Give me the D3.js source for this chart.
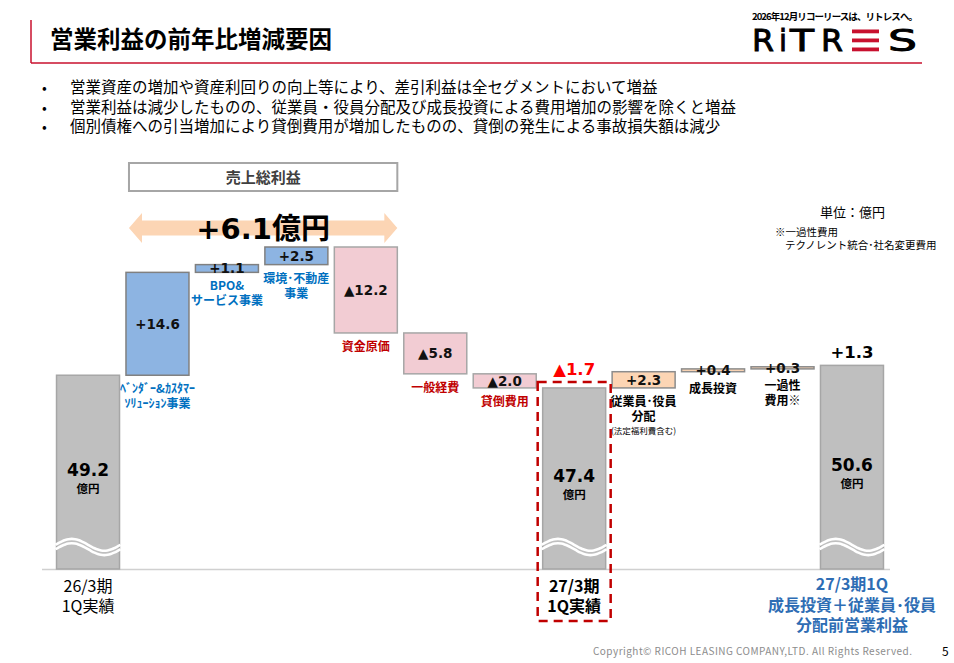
<!DOCTYPE html>
<html>
<head>
<meta charset="utf-8">
<script src="https://cdn.jsdelivr.net/npm/d3@7"></script>
<style>
  body { margin:0; background:#fff; }
  svg { display:block; }
  text { font-family:"Noto Sans CJK JP", "Noto Sans", sans-serif; }
  .num { font-family:"DejaVu Sans", "Noto Sans CJK JP", sans-serif; font-weight:bold; }
</style>
</head>
<body>
<div id="plot"></div>
<script>
// chart data
var steps = ['26/3期1Q実績','ベンダー&カスタマー','BPO&サービス','環境・不動産','資金原価','一般経費','貸倒費用',
             '27/3期1Q実績','従業員・役員分配','成長投資','一過性費用','分配前営業利益'];
var kinds = ['total','up','up','up','down','down','down','total','extra','extra','extra','total'];
var values = [49.2, 14.6, 1.1, 2.5, -12.2, -5.8, -2.0, 47.4, 2.3, 0.4, 0.3, 50.6];
var valueLabels = ['49.2','+14.6','+1.1','+2.5','▲12.2','▲5.8','▲2.0','47.4','+2.3','+0.4','+0.3','50.6'];
var catLines = [[], ['ﾍﾞﾝﾀﾞｰ&ｶｽﾀﾏｰ','ｿﾘｭｰｼｮﾝ事業'], ['BPO&','サービス事業'], ['環境･不動産','事業'],
                ['資金原価'], ['一般経費'], ['貸倒費用'], [], ['従業員･役員','分配','(法定福利費含む)'],
                ['成長投資'], ['一過性','費用※'], []];
var bullets = ['営業資産の増加や資産利回りの向上等により、差引利益は全セグメントにおいて増益',
               '営業利益は減少したものの、従業員・役員分配及び成長投資による費用増加の影響を除くと増益',
               '個別債権への引当増加により貸倒費用が増加したものの、貸倒の発生による事故損失額は減少'];
var grossProfit = '+6.1億円';
var diffLabels = {7:'▲1.7', 11:'+1.3'};

var W = 954, H = 663;
var svg = d3.select('#plot').append('svg').attr('width',W).attr('height',H);

// header
svg.append('line').attr('x1',31).attr('x2',31).attr('y1',20).attr('y2',63)
  .style('stroke','#c8102e').style('stroke-width',1.5);
svg.append('line').attr('x1',31).attr('x2',922).attr('y1',63).attr('y2',63)
  .style('stroke','#c8102e').style('stroke-width',1.5);
svg.append('text').attr('x',50).attr('y',48).text('営業利益の前年比増減要因')
  .style('font-size','23.5px').style('font-weight','bold');

svg.append('text').attr('x',752).attr('y',20).text('2026年12月リコーリースは、リトレスへ。')
  .attr('textLength',166).style('font-size','9.5px').style('font-weight','bold');
var logo = svg.append('g');
[['R',752,22],['i',779,8],['T',790,24],['R',821,22],['S',888,29]].forEach(function(l){
  logo.append('text').attr('x',l[1]).attr('y',51).text(l[0])
    .attr('textLength',l[2]).attr('lengthAdjust','spacingAndGlyphs')
    .style('font-family','"DejaVu Sans", sans-serif').style('font-size','30px')
    .style('stroke','#000').style('stroke-width',0.9);
});
[29.5,38.5,47.5].forEach(function(y){
  logo.append('rect').attr('x',852).attr('y',y).attr('width',27).attr('height',3.8).style('fill','#c8102e');
});

// bullets
bullets.forEach(function(b,i){
  svg.append('text').attr('x',42).attr('y',93+i*19.5).text('•').style('font-size','14px');
  svg.append('text').attr('x',70).attr('y',93+i*19.5).text(b).style('font-size','15.5px');
});

// scales
var x = d3.scaleBand().domain(d3.range(steps.length)).range([53.3,886.7])
  .paddingInner(0.093).paddingOuter(0.0465);
var base = 21.7;
var y = d3.scaleLinear().domain([base, 67.4]).range([569, 247]);

// waterfall segments
var bars = [];
var cum = 0;
values.forEach(function(v,i){
  if (kinds[i]==='total') { bars.push({i:i, y0:base, y1:v}); cum = v; }
  else { bars.push({i:i, y0:cum, y1:cum+v}); cum += v; }
});

var fills = {total:'#bfbfbf', up:'#8db4e2', down:'#f2ccd3', extra:'#fcd5b4'};
var strokes = {total:'#a6a6a6', up:'#808080', down:'#a6a6a6', extra:'#8c8c8c'};
var catColor = {up:'#0070c0', down:'#c00000', extra:'#000'};

// baseline
svg.append('line').attr('x1',42).attr('x2',890).attr('y1',569.5).attr('y2',569.5)
  .style('stroke','#d0d0d0').style('stroke-width',1.5);

var plot = svg.append('g');
plot.selectAll('rect.bar').data(bars).enter().append('rect').attr('class','bar')
  .attr('x',function(d){return x(d.i);})
  .attr('width',x.bandwidth())
  .attr('y',function(d){return y(Math.max(d.y0,d.y1));})
  .attr('height',function(d){return Math.abs(y(d.y0)-y(d.y1));})
  .style('fill',function(d){return fills[kinds[d.i]];})
  .style('stroke',function(d){return strokes[kinds[d.i]];})
  .style('stroke-width',1.5);

// wave break marks on total bars
var waveY = 547;
var wave = d3.line().curve(d3.curveBasis);
bars.filter(function(d){return kinds[d.i]==='total';}).forEach(function(d){
  var x0 = x(d.i), w = x.bandwidth();
  [-2.2, 2.2].forEach(function(off){
    var pts = d3.range(0,1.0001,0.05).map(function(t){
      return [x0-1 + t*(w+2), waveY + off - 6*Math.sin(2*Math.PI*t)];
    });
    plot.append('path').attr('d',wave(pts)).style('fill','none')
      .style('stroke','#fff').style('stroke-width',2.6);
  });
});

// value labels
bars.forEach(function(d){
  var cx = x(d.i) + x.bandwidth()/2;
  var k = kinds[d.i];
  if (k==='total') {
    var top = y(d.y1);
    var cy = (top+waveY)/2 + 9;
    plot.append('text').attr('class','num').attr('x',cx).attr('y',cy+6).attr('text-anchor','middle')
      .text(valueLabels[d.i]).style('font-size','17px');
    plot.append('text').attr('x',cx).attr('y',cy+23).attr('text-anchor','middle')
      .text('億円').style('font-size','11.5px').style('font-weight','bold');
  } else {
    var mid = (y(d.y0)+y(d.y1))/2;
    plot.append('text').attr('class','num').attr('x',cx).attr('y',mid+5).attr('text-anchor','middle')
      .text(valueLabels[d.i]).style('font-size','13.5px').style('fill','#111');
    var bottom = y(Math.min(d.y0,d.y1));
    var gap = Math.abs(y(d.y0)-y(d.y1)) < 5 ? 21 : 18;
    catLines[d.i].forEach(function(line,j){
      var small = line.charAt(0)==='(';
      plot.append('text').attr('x',cx).attr('y',bottom+gap+j*15 - (small?2:0)).attr('text-anchor','middle')
        .text(line).style('font-size',small?'8.5px':'12px')
        .style('font-weight',small?'normal':'bold')
        .style('fill',catColor[k]);
    });
  }
});

// differences vs prior year
Object.keys(diffLabels).forEach(function(k){
  var i = +k;
  var cx = x(i) + x.bandwidth()/2;
  var red = diffLabels[k].charAt(0)==='▲';
  plot.append('text').attr('class','num').attr('x',cx).attr('y',y(values[i]) - (red?13:7))
    .attr('text-anchor','middle').text(diffLabels[k]).style('font-size','16.5px')
    .style('fill',red?'#ff0000':'#000');
});

// red dashed box round 27/3期
plot.append('rect').attr('x',x(7)-5).attr('y',382).attr('width',x.bandwidth()+10).attr('height',239)
  .style('fill','none').style('stroke','#c00000').style('stroke-width',2.5)
  .style('stroke-dasharray','9,6');

// bottom labels
function lines(arr, cx, y0, dy, size, weight, color){
  arr.forEach(function(t,j){
    svg.append('text').attr('x',cx).attr('y',y0+j*dy).attr('text-anchor','middle').text(t)
      .style('font-size',size).style('font-weight',weight).style('fill',color);
  });
}
var c = function(i){return x(i)+x.bandwidth()/2;};
lines(['26/3期','1Q実績'], c(0), 592, 19.5, '16px', 'normal', '#000');
lines(['27/3期','1Q実績'], c(7), 592, 19.5, '16px', 'bold', '#000');
lines(['27/3期1Q','成長投資＋従業員･役員','分配前営業利益'], c(11), 590, 20.5, '16px', 'bold', '#2e6db4');

// gross profit box and arrow
var gx0 = x(1)+3, gx1 = x(4) + x.bandwidth();
svg.append('rect').attr('x',gx0).attr('y',163).attr('width',gx1-gx0).attr('height',28)
  .style('fill','#fff').style('stroke','#a6a6a6').style('stroke-width',2);
svg.append('text').attr('x',(gx0+gx1)/2).attr('y',183).attr('text-anchor','middle').text('売上総利益')
  .style('font-size','15px').style('font-weight','bold').style('fill','#404040');
var ay = 228, hd = 13;
svg.append('path').attr('d', d3.line()([
    [gx0,ay],[gx0+hd,ay-15],[gx0+hd,ay-7.5],[gx1-hd,ay-7.5],[gx1-hd,ay-15],[gx1,ay],
    [gx1-hd,ay+15],[gx1-hd,ay+7.5],[gx0+hd,ay+7.5],[gx0+hd,ay+15]
  ]) + 'Z').style('fill','#fcd5b4');
svg.append('text').attr('class','num').attr('x',(gx0+gx1)/2).attr('y',239).attr('text-anchor','middle')
  .text(grossProfit).style('font-size','29px');

// unit note
svg.append('text').attr('x',820).attr('y',217).text('単位：億円').style('font-size','13px');
svg.append('text').attr('x',775).attr('y',236).text('※一過性費用').style('font-size','10.5px');
svg.append('text').attr('x',785).attr('y',249).text('テクノレント統合･社名変更費用').style('font-size','10.5px');

// footer
svg.append('text').attr('x',593).attr('y',655).attr('textLength',319)
  .text('Copyright© RICOH LEASING COMPANY,LTD.  All Rights Reserved.')
  .style('font-size','10px').style('fill','#8c8c8c');
svg.append('text').attr('x',942).attr('y',656).text('5').style('font-size','12px');
</script>
</body>
</html>
